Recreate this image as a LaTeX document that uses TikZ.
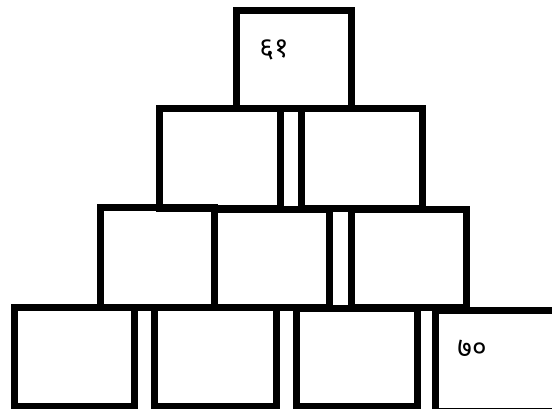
\documentclass[tikz,border=0pt]{standalone}
\usepackage{fontspec}
\newfontfamily\devfont[Script=Devanagari]{Noto Sans}
\begin{document}
\begin{tikzpicture}[x=1pt,y=-1pt,
  cell/.style={draw=black,line width=7pt,rectangle,inner sep=0pt,minimum width=#1},
  cell/.default=120pt,
  num/.style={font=\devfont\fontsize{28}{28}\selectfont,inner sep=0pt}]
\useasboundingbox (0,0) rectangle (552,408);
\begin{scope}
\clip (0,0) rectangle (552,408);
% rows: centre x, centre y, width, height
\node[cell=115pt,minimum height=98pt] (t) at (294,59) {};
\node[cell=120.5pt,minimum height=99.5pt] (b21) at (219.75,158.25) {};
\node[cell=121pt,minimum height=99.5pt] (b22) at (362,158.25) {};
\node[cell=114.5pt,minimum height=99.5pt] (b31) at (157.25,257.25) {};
\node[cell=115pt,minimum height=98pt] (b32) at (272,258) {};
\node[cell=115pt,minimum height=97.5pt] (b33) at (408.5,258.25) {};
\node[cell=120.5pt,minimum height=98.5pt] (b41) at (74.25,356.75) {};
\node[cell=122pt,minimum height=98.5pt] (b42) at (215,356.75) {};
\node[cell=121pt,minimum height=97.5pt] (b43) at (356.5,357.25) {};
\node[cell=125pt,minimum height=101pt] (b44) at (497.5,361) {};
\end{scope}
\node[num] (n1) at (274,50) {६१};
\node[num] (n2) at (472,349) {७०};
\end{tikzpicture}
\end{document}
